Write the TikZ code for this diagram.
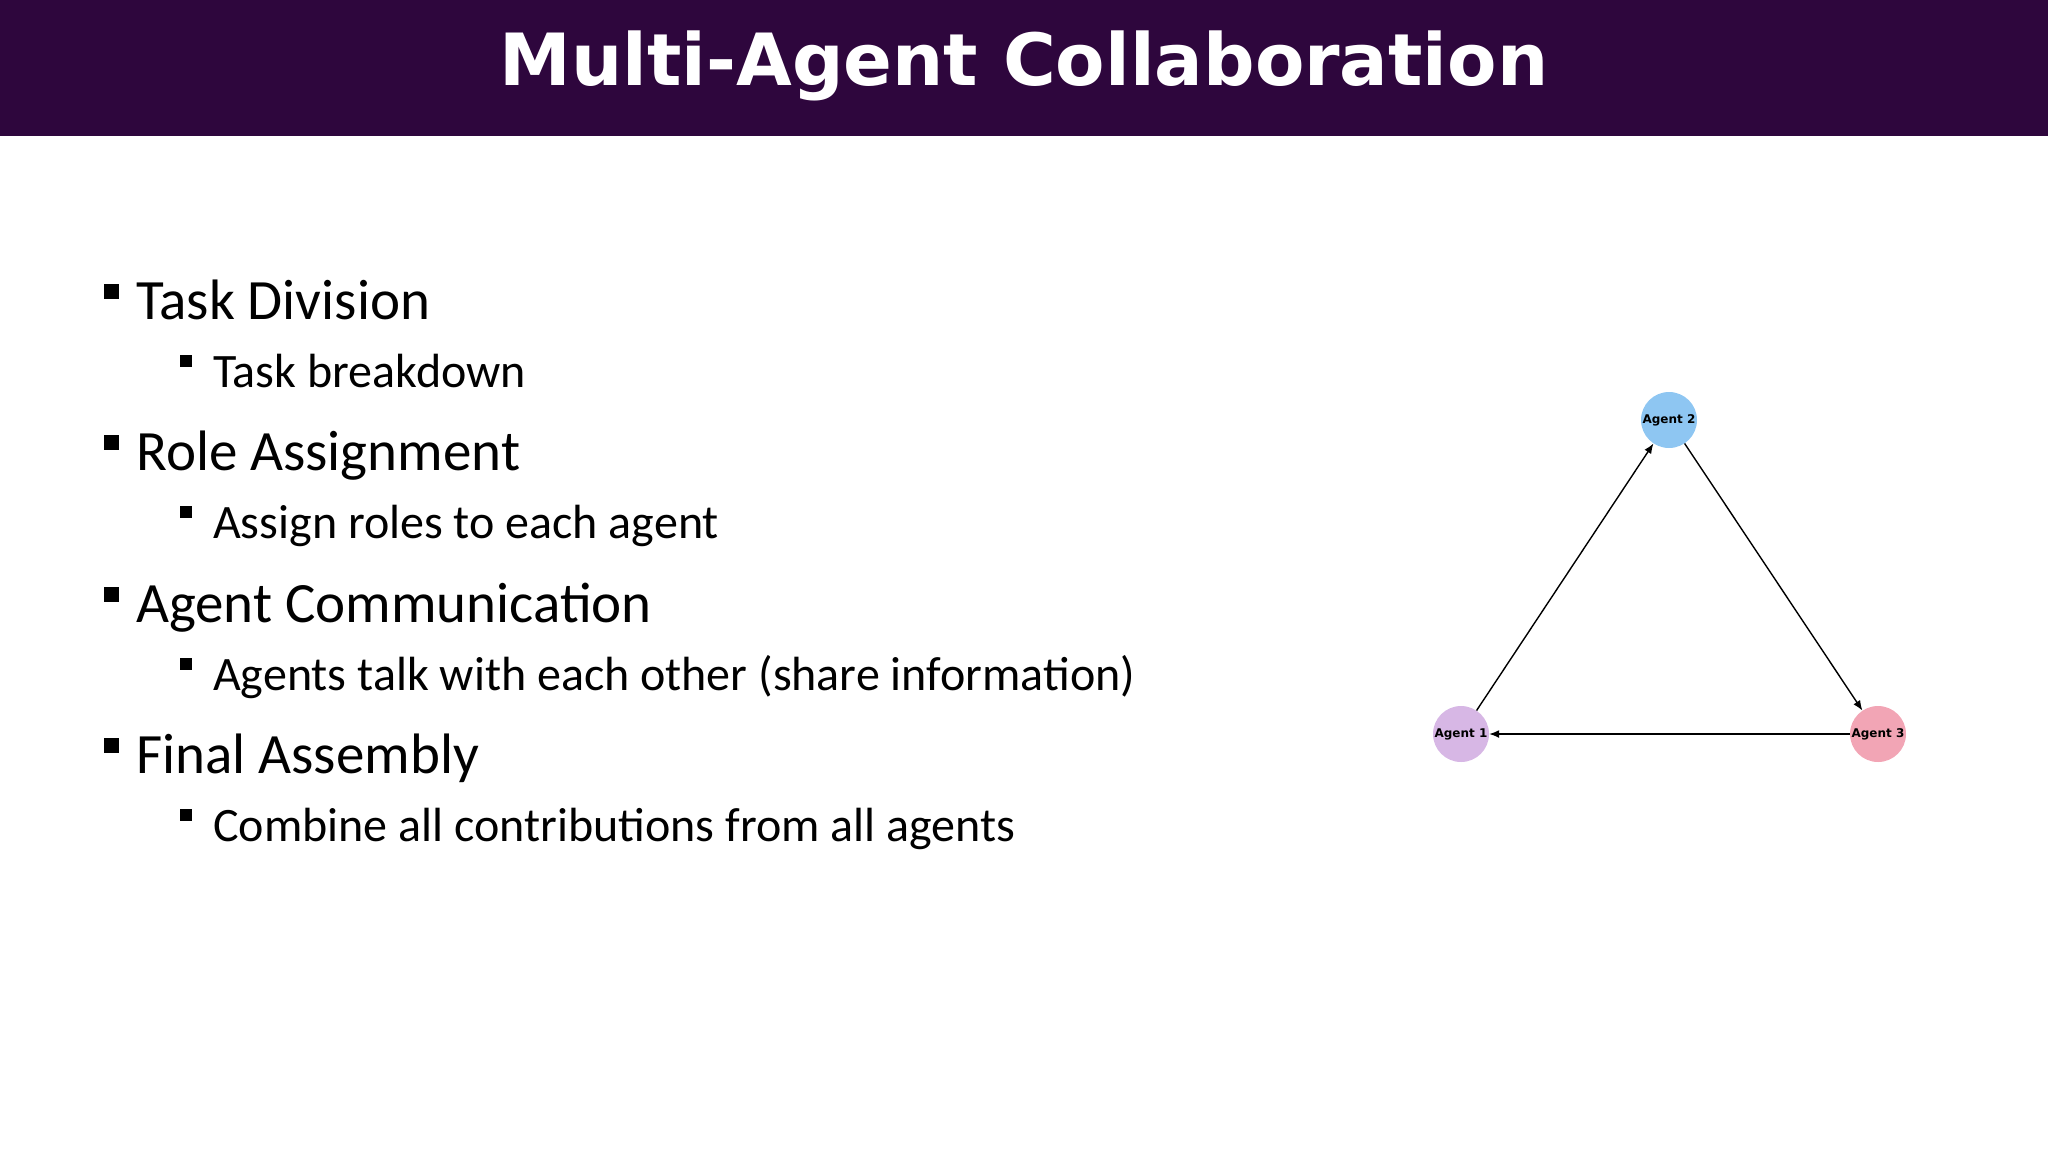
\documentclass[tikz,border=0pt]{standalone}
\usepackage{fontspec}
\setmainfont{Carlito}
\newfontfamily\dvs{DejaVu Sans}
\usetikzlibrary{arrows.meta}
\definecolor{barcol}{HTML}{2E063D}
\definecolor{aone}{HTML}{D7B7E5}
\definecolor{atwo}{HTML}{8EC6F2}
\definecolor{athree}{HTML}{F2A5B5}
\tikzset{
  lone/.style={anchor=base west, inner sep=0pt, font=\fontsize{57}{60}\selectfont},
  ltwo/.style={anchor=base west, inner sep=0pt, font=\fontsize{48}{50}\selectfont},
  agent/.style={circle, minimum size=56pt, inner sep=0pt, font=\dvs\bfseries\fontsize{12}{14}\selectfont},
  edge/.style={-{Latex[length=10pt,width=8pt]}, line width=1.4pt},
}
\begin{document}
\begin{tikzpicture}[x=1pt,y=-1pt]
\useasboundingbox (0,0) rectangle (2048,1152);
\fill[barcol] (0,0) rectangle (2048,136);
\node[text=white, font=\dvs\bfseries\fontsize{72}{80}\selectfont] (title) at (1024,66) {Multi-Agent Collaboration};
\foreach \y/\t [count=\i] in {319/Task Division, 470/Role Assignment, 622/Agent Communication, 773/Final Assembly}{
  \fill (104,\y-35) rectangle (119,\y-20);
  \node[lone] (h\i) at (136,\y) {\t};
}
\foreach \y/\t [count=\i] in {387/Task breakdown, 538/Assign roles to each agent, 690/Agents talk with each other (share information), 841/Combine all contributions from all agents}{
  \fill (180,\y-32) rectangle (192,\y-20);
  \node[ltwo] (s\i) at (213,\y) {\t};
}
\node[agent, fill=aone] (a1) at (1461,734) {Agent 1};
\node[agent, fill=atwo] (a2) at (1669,420) {Agent 2};
\node[agent, fill=athree] (a3) at (1878,734) {Agent 3};
\draw[edge] (a1) -- (a2);
\draw[edge] (a2) -- (a3);
\draw[edge] (a3) -- (a1);
\end{tikzpicture}
\end{document}
